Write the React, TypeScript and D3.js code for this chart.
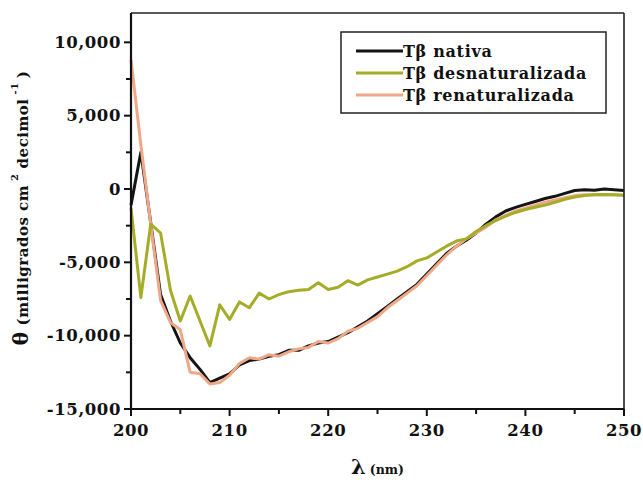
import React from "react";
import * as d3 from "d3";

// Wavelengths (nm), 1 nm step
const wavelengths: number[] = d3.range(200, 251);

// Mean residue ellipticity, one value per wavelength
const nativa: number[] = [
  -1100, 2500, -2300, -7200, -9000, -10500, -11500, -12300, -13200, -12900,
  -12600, -12000, -11700, -11600, -11400, -11300, -11000, -11000, -10700, -10500,
  -10400, -10100, -9800, -9400, -9000, -8500, -8000, -7500, -7000, -6500,
  -5800, -5100, -4400, -3900, -3500, -3000, -2400, -1900, -1500, -1250,
  -1050, -850, -650, -500, -300, -100, -50, -80, 0, -50, -100,
];

const desnaturalizada: number[] = [
  -1300, -7400, -2400, -3000, -6900, -9000, -7300, -9000, -10700, -7900,
  -8900, -7700, -8100, -7100, -7500, -7200, -7000, -6900, -6850, -6400,
  -6850, -6700, -6250, -6550, -6200, -6000, -5800, -5600, -5300, -4900,
  -4700, -4300, -3900, -3550, -3400, -2900, -2500, -2150, -1850, -1600,
  -1400, -1250, -1100, -900, -700, -550, -450, -400, -380, -400, -420,
];

const renaturalizada: number[] = [
  8800, 3000, -2400, -7600, -9100, -9600, -12500, -12600, -13300, -13200,
  -12700, -11900, -11500, -11600, -11300, -11400, -11100, -10900, -10800, -10400,
  -10500, -10200, -9700, -9500, -9100, -8700, -8100, -7600, -7100, -6600,
  -5900, -5200, -4500, -3900, -3400, -3000, -2600, -2100, -1800, -1500,
  -1300, -1100, -900, -750, -600, -450, -400, -400, -380, -400, -420,
];

const seriesNames: string[] = ["Tβ nativa", "Tβ desnaturalizada", "Tβ renaturalizada"];
const seriesColors: string[] = ["#141414", "#a4ac28", "#efa887"];

const xMajorTicks: number[] = [200, 210, 220, 230, 240, 250];
const xMinorTicks: number[] = [205, 215, 225, 235, 245];
const yMajorTicks: number[] = [-15000, -10000, -5000, 0, 5000, 10000];
const yMinorTicks: number[] = [-12500, -7500, -2500, 2500, 7500];

const W = 643;
const H = 480;
const margin = { left: 131, right: 19, top: 13, bottom: 71 };
const font = "'DejaVu Serif', 'Liberation Serif', serif";

export default function App() {
  const x = d3.scaleLinear().domain([200, 250]).range([margin.left, W - margin.right]);
  const y = d3.scaleLinear().domain([-15000, 12000]).range([H - margin.bottom, margin.top]);
  // thousands separator with a plain hyphen for negatives
  const fmt = (v: number) => d3.format(",")(v).replace("−", "-");

  const line = d3
    .line<[number, number]>()
    .x((d) => x(d[0]))
    .y((d) => y(d[1]));

  const allSeries = [nativa, desnaturalizada, renaturalizada];
  const drawOrder = [0, 2, 1];

  const x0 = margin.left;
  const x1 = W - margin.right;
  const y0 = H - margin.bottom;
  const y1 = margin.top;

  const legend = { x: 341, y: 32, w: 265, h: 81 };

  return (
    <svg
      width={W}
      height={H}
      style={{ position: "absolute", left: 0, top: 0, background: "#fff" }}
      fontFamily={font}
    >
      <rect width={W} height={H} fill="#fff" />

      {/* data lines */}
      {drawOrder.map((i) => (
        <path
          key={seriesNames[i]}
          d={line(wavelengths.map((w, k) => [w, allSeries[i][k]]) as [number, number][]) ?? ""}
          fill="none"
          stroke={seriesColors[i]}
          strokeWidth={3}
          strokeLinejoin="round"
        />
      ))}

      {/* frame */}
      <line x1={x0} y1={y1} x2={x1} y2={y1} stroke="#222" strokeWidth={1.6} />
      <line x1={x1} y1={y1} x2={x1} y2={y0} stroke="#222" strokeWidth={1.6} />
      <line x1={x0} y1={y0} x2={x1} y2={y0} stroke="#111" strokeWidth={2.2} />
      <line x1={x0} y1={y1} x2={x0} y2={y0} stroke="#111" strokeWidth={2.2} />

      {/* y ticks */}
      {yMajorTicks.map((t) => (
        <g key={"ym" + t}>
          <line x1={x0 - 7} x2={x0} y1={y(t)} y2={y(t)} stroke="#111" strokeWidth={2} />
          <text
            x={x0 - 10}
            y={y(t)}
            dy="0.35em"
            textAnchor="end"
            fontSize={16.5}
            fontWeight="bold"
            letterSpacing={0.6}
            fill="#111"
          >
            {fmt(t)}
          </text>
        </g>
      ))}
      {yMinorTicks.map((t) => (
        <line key={"yn" + t} x1={x0 - 5} x2={x0} y1={y(t)} y2={y(t)} stroke="#111" strokeWidth={2} />
      ))}

      {/* x ticks */}
      {xMajorTicks.map((t) => (
        <g key={"xm" + t}>
          <line x1={x(t)} x2={x(t)} y1={y0} y2={y0 + 7} stroke="#111" strokeWidth={2} />
          <text
            x={x(t)}
            y={y0 + 27}
            textAnchor="middle"
            fontSize={16.5}
            fontWeight="bold"
            letterSpacing={0.6}
            fill="#111"
          >
            {t}
          </text>
        </g>
      ))}
      {xMinorTicks.map((t) => (
        <line key={"xn" + t} x1={x(t)} x2={x(t)} y1={y0} y2={y0 + 5} stroke="#111" strokeWidth={2} />
      ))}

      {/* x axis title */}
      <text x={(x0 + x1) / 2} y={H - 6} textAnchor="middle" fontWeight="bold" fill="#111">
        <tspan fontSize={21}>λ</tspan>
        <tspan fontSize={12.5} dx={4}>(nm)</tspan>
      </text>

      {/* y axis title */}
      <text
        transform={`translate(28, ${(y0 + y1) / 2 - 3}) rotate(-90)`}
        textAnchor="middle"
        fontWeight="bold"
        fill="#111"
        fontSize={15}
        letterSpacing={0.5}
      >
        <tspan fontSize={20}>θ</tspan>
        <tspan dx={6}>(milligrados cm</tspan>
        <tspan fontSize={10} dy={-10} dx={4}>2</tspan>
        <tspan dy={10} dx={5}>decimol</tspan>
        <tspan fontSize={10} dy={-10} dx={4}>-1</tspan>
        <tspan dy={10} dx={4}>)</tspan>
      </text>

      {/* legend */}
      <rect
        x={legend.x}
        y={legend.y}
        width={legend.w}
        height={legend.h}
        fill="#fff"
        stroke="#222"
        strokeWidth={1.5}
      />
      {seriesNames.map((name, i) => {
        const ly = legend.y + 19 + i * 22;
        return (
          <g key={name}>
            <line
              x1={legend.x + 15}
              x2={legend.x + 62}
              y1={ly}
              y2={ly}
              stroke={seriesColors[i]}
              strokeWidth={3}
            />
            <text
              x={legend.x + 62}
              y={ly}
              dy="0.35em"
              fontSize={16}
              fontWeight="bold"
              letterSpacing={0.7}
              fill="#111"
            >
              {name}
            </text>
          </g>
        );
      })}
    </svg>
  );
}
